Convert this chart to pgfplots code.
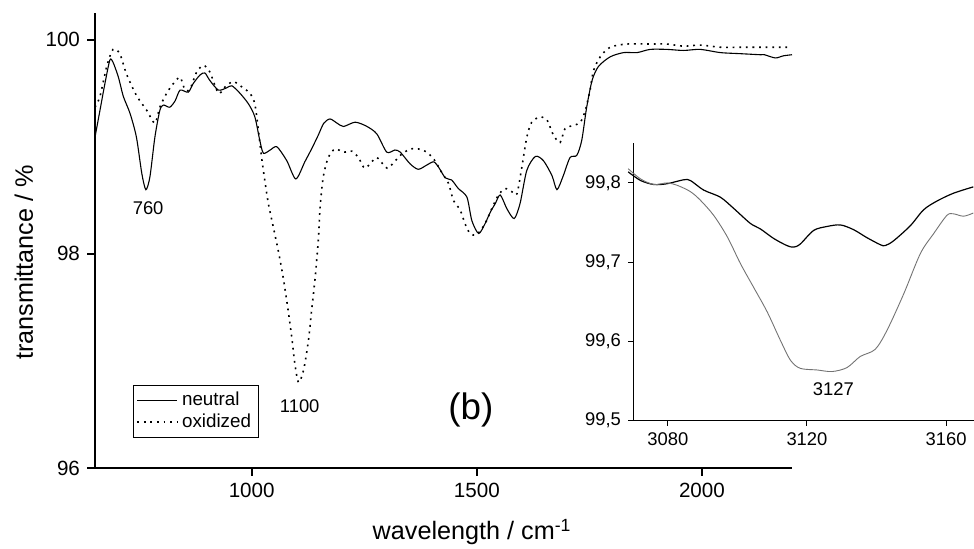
\documentclass[border=0pt]{standalone}
\usepackage{fontspec}
\setmainfont{Liberation Sans}
\usepackage{pgfplots}
\pgfplotsset{compat=1.18}

% spectra
\pgfplotstableread{
x y
652 99.09
663 99.34
674 99.59
685 99.81
692 99.79
704 99.65
715 99.47
730 99.31
744 99.09
756 98.75
765 98.60
774 98.72
785 99.09
796 99.34
804 99.39
818 99.37
830 99.43
841 99.53
859 99.51
870 99.59
885 99.67
896 99.69
907 99.62
926 99.53
944 99.55
956 99.57
974 99.50
993 99.40
1007 99.28
1018 99.06
1026 98.94
1041 98.97
1056 99.00
1078 98.87
1098 98.70
1118 98.86
1133 98.98
1148 99.11
1160 99.22
1174 99.26
1190 99.22
1204 99.19
1230 99.23
1256 99.19
1278 99.12
1300 98.95
1318 98.97
1330 98.95
1352 98.84
1370 98.79
1389 98.83
1404 98.86
1415 98.81
1430 98.71
1444 98.69
1459 98.61
1478 98.53
1489 98.31
1504 98.19
1518 98.28
1530 98.39
1541 98.47
1552 98.55
1567 98.42
1583 98.33
1596 98.47
1611 98.78
1630 98.91
1648 98.87
1667 98.73
1678 98.60
1692 98.73
1707 98.90
1722 98.92
1733 99.06
1744 99.37
1756 99.62
1770 99.75
1796 99.84
1826 99.88
1856 99.88
1885 99.91
1922 99.91
1959 99.90
1996 99.91
2041 99.88
2085 99.87
2130 99.86
2139 99.86
2163 99.83
2181 99.85
2200 99.86
}\neutral

\pgfplotstableread{
x y
652 99.37
663 99.47
678 99.75
692 99.91
707 99.87
722 99.68
744 99.48
767 99.34
785 99.22
796 99.37
811 99.50
826 99.59
841 99.65
852 99.53
863 99.54
878 99.70
893 99.76
907 99.70
926 99.50
941 99.56
959 99.61
978 99.56
996 99.50
1007 99.40
1015 99.15
1022 98.90
1030 98.66
1037 98.47
1048 98.25
1059 98.03
1070 97.78
1081 97.47
1089 97.22
1096 96.97
1104 96.80
1115 96.91
1126 97.19
1133 97.47
1141 97.78
1148 98.13
1152 98.44
1159 98.72
1170 98.90
1185 98.98
1204 98.95
1222 98.96
1237 98.90
1252 98.80
1278 98.90
1301 98.80
1330 98.92
1352 98.98
1370 98.98
1389 98.95
1407 98.87
1422 98.76
1437 98.66
1448 98.50
1463 98.41
1474 98.28
1485 98.19
1500 98.18
1518 98.28
1533 98.42
1548 98.55
1563 98.61
1578 98.58
1589 98.56
1600 98.81
1611 99.09
1622 99.23
1641 99.28
1656 99.25
1670 99.11
1685 99.04
1696 99.17
1715 99.20
1730 99.23
1741 99.34
1752 99.54
1759 99.71
1774 99.84
1796 99.93
1833 99.96
1885 99.96
1922 99.96
1959 99.94
1996 99.95
2041 99.93
2085 99.93
2130 99.93
2189 99.93
}\oxidized

\pgfplotstableread{
x y
3068.6 99.814
3072.2 99.803
3076.0 99.798
3079.8 99.799
3084.6 99.804
3086.5 99.803
3090.3 99.791
3095.1 99.782
3098.9 99.768
3103.7 99.749
3106.6 99.742
3110.4 99.730
3114.2 99.721
3116.2 99.719
3118.1 99.723
3121.9 99.740
3125.7 99.745
3129.6 99.747
3133.4 99.741
3137.2 99.731
3141.1 99.722
3142.5 99.721
3144.9 99.727
3149.7 99.746
3153.5 99.766
3157.3 99.777
3162.1 99.787
3167.8 99.795
}\neutralzoom

\pgfplotstableread{
x y
3068.6 99.818
3072.2 99.805
3076.0 99.798
3079.8 99.800
3082.7 99.797
3086.5 99.789
3089.4 99.778
3093.2 99.759
3097.1 99.732
3100.9 99.698
3104.7 99.668
3108.6 99.637
3112.4 99.601
3115.3 99.576
3118.1 99.566
3122.9 99.564
3127.2 99.562
3131.5 99.567
3135.3 99.581
3139.6 99.590
3143.0 99.614
3147.8 99.660
3152.6 99.711
3156.4 99.736
3160.2 99.759
3162.1 99.761
3165.0 99.758
3167.8 99.762
}\oxidizedzoom

\begin{document}
\begin{tikzpicture}
\useasboundingbox (0,0) rectangle (487pt,274.5pt);

\begin{axis}[
  at={(47.5pt,40.5pt)}, anchor=south west,
  scale only axis, width=348.5pt, height=227.5pt,
  xmin=652, xmax=2200, ymin=96, ymax=100.25,
  axis x line*=bottom, axis y line*=left,
  axis line style={line width=1pt,-},
  tick align=outside, major tick length=4pt,
  tick style={line width=1pt,black},
  xtick={1000,1500,2000}, ytick={96,98,100},
  /pgf/number format/assume math mode=true,
  /pgf/number format/1000 sep={},
  tick label style={font=\fontsize{10.3}{12}\selectfont},
  xlabel={wavelength / cm\textsuperscript{-1}},
  ylabel={transmittance / \%},
  every axis x label/.style={at={(axis description cs:0.541,-0.1407)}, anchor=center,
    font=\fontsize{12.6}{15}\selectfont},
  every axis y label/.style={at={(axis description cs:-0.102,0.4516)}, anchor=center, rotate=90,
    font=\fontsize{12.6}{15}\selectfont},
  clip=false,
  legend style={at={(axis description cs:0.0545,0.066)}, anchor=south west,
    draw=black, line width=0.5pt, inner sep=1.5pt, row sep=-1.5pt,
    font=\fontsize{9.4}{11}\selectfont},
  legend cell align=left,
  legend image code/.code={\draw[#1] (0pt,0pt) -- (20pt,0pt);},
]
\addplot[black, line width=0.55pt, smooth, tension=0.45] table {\neutral};
\addlegendentry{neutral}
\addplot[black, line width=0.8pt, dash pattern=on 0.9pt off 2.4pt, smooth, tension=0.45] table {\oxidized};
\addlegendentry{oxidized}
\node[font=\fontsize{9.2}{11}\selectfont] at (axis cs:770,98.43) {760};
\node[font=\fontsize{9.2}{11}\selectfont] at (axis cs:1106.6,96.58) {1100};
\node[font=\fontsize{18.4}{22}\selectfont] at (axis cs:1487,96.54) {(b)};
\end{axis}

\begin{axis}[
  at={(316.5pt,64.15pt)}, anchor=south west,
  scale only axis, width=170.5pt, height=138.7pt,
  xmin=3070, xmax=3168, ymin=99.5, ymax=99.85,
  axis x line*=bottom, axis y line*=left,
  axis line style={line width=0.5pt,-},
  tick align=outside, major tick length=2.5pt,
  tick style={line width=0.5pt,black},
  xtick={3080,3120,3160}, ytick={99.5,99.6,99.7,99.8},
  /pgf/number format/assume math mode=true,
  /pgf/number format/use comma,
  /pgf/number format/1000 sep={},
  yticklabel style={/pgf/number format/fixed, /pgf/number format/fixed zerofill, /pgf/number format/precision=1},
  tick label style={font=\fontsize{9.2}{11}\selectfont},
  clip=false,
]
\addplot[black, line width=0.6pt, smooth] table {\neutralzoom};
\addplot[black!55, line width=0.45pt, smooth] table {\oxidizedzoom};
\node[font=\fontsize{9.2}{11}\selectfont] at (axis cs:3127.6,99.540) {3127};
\end{axis}
\end{tikzpicture}
\end{document}
